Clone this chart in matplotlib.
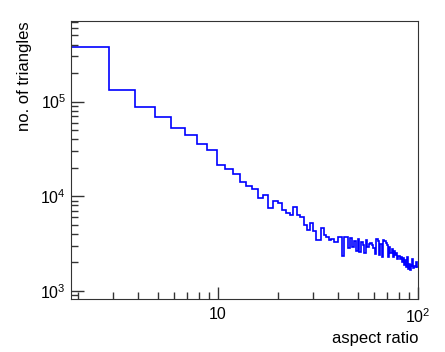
import numpy as np
import matplotlib
matplotlib.use('Agg')
from matplotlib import pyplot as plt
from matplotlib import ticker

plt.rcParams['font.family'] = ['Liberation Sans', 'DejaVu Sans']

# histogram of triangle aspect ratios, bins of width 1 starting at 1.84
first_edge = 1.84
counts = [375000, 133000, 87100, 69500, 52200, 44400, 36000, 30600, 21400, 19300,
          17100, 14300, 13000, 11900, 9500, 10200, 7460, 8930, 8400, 7200,
          6600, 6350, 7650, 6350, 6100, 4980, 4400, 5270, 4340, 3460,
          3460, 4670, 3910, 3690, 3460, 3550, 3320, 3290, 3740, 3690,
          2345, 3740, 3690, 2830, 3620, 2950, 3410, 2660, 3520, 2580,
          3320, 3060, 2510, 3460, 2950, 3170, 3220, 3040, 2830, 2470,
          3580, 3410, 2400, 3170, 2310, 3460, 3410, 3220, 3060, 2310,
          2950, 2510, 2760, 2310, 2660, 2400, 2510, 2180, 2340, 2160,
          2290, 2040, 2230, 1870, 2150, 1810, 2310, 1700, 1950, 1670,
          1870, 1810, 2180, 1730, 1830, 1810, 2040, 1780, 1810]
edges = first_edge + np.arange(len(counts) + 1)

xlabels = ['10', r'$\mathdefault{10^{2}}$']

fig = plt.figure(figsize=(4.45, 3.52), dpi=100)
ax = fig.add_axes([71/445, 1 - 299/352, (418 - 71)/445, (299 - 21)/352])

ax.stairs(counts, edges, baseline=1, color='blue', lw=1.2)

ax.set_xscale('log')
ax.set_yscale('log')
ax.set_xlim(first_edge, 100)
ax.set_ylim(823, 7.1e5)

ax.xaxis.set_major_locator(ticker.FixedLocator([10, 100]))
ax.xaxis.set_major_formatter(ticker.FixedFormatter(xlabels))
ax.xaxis.set_minor_locator(ticker.LogLocator(base=10, subs=np.arange(2, 10), numticks=20))
ax.xaxis.set_minor_formatter(ticker.NullFormatter())
ax.yaxis.set_minor_locator(ticker.LogLocator(base=10, subs=np.arange(2, 10), numticks=20))
ax.yaxis.set_minor_formatter(ticker.NullFormatter())

ax.tick_params(which='both', direction='in', top=False, right=False, colors='#333333',
               labelcolor='black', labelsize=11.5)
ax.tick_params(which='major', length=9, width=1)
ax.tick_params(which='minor', length=5, width=1)
ax.tick_params(axis='x', pad=6)
for s in ax.spines.values():
    s.set_color('#333333')

ax.set_xlabel('aspect ratio', fontsize=12, loc='right')
ax.set_ylabel('no. of triangles', fontsize=12, loc='top')
ax.xaxis.set_label_coords(1.0, -0.115)
ax.yaxis.set_label_coords(-0.112, 1.0)

plt.savefig('out.png', dpi=100)
plt.close()
